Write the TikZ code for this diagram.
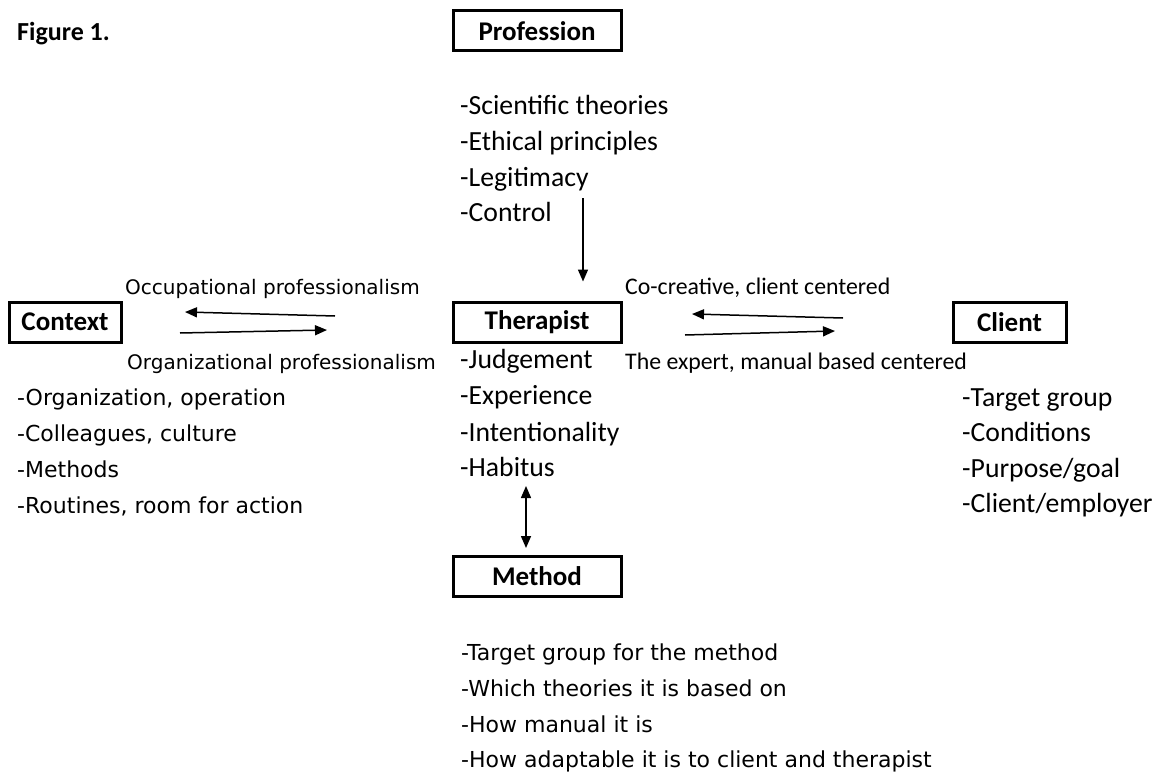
\documentclass[tikz,border=0pt]{standalone}
\usepackage{fontspec}
\setmainfont{Carlito}
\newfontfamily\vfont{DejaVu Sans}
\usetikzlibrary{arrows.meta,calc}
\begin{document}
\begin{tikzpicture}[x=1pt,y=-1pt,
  boxnode/.style={draw,line width=3pt,inner sep=0pt,minimum height=40pt,
    font=\fontsize{27}{32}\selectfont\bfseries},
  citem/.style={anchor=base west,inner sep=0pt,font=\fontsize{27.7}{34}\selectfont},
  vitem/.style={anchor=base west,inner sep=0pt,font=\vfont\fontsize{22}{28}\selectfont},
  vlab/.style={anchor=base west,inner sep=0pt,font=\vfont\fontsize{20}{24}\selectfont},
  clab/.style={anchor=base west,inner sep=0pt,font=\fontsize{23.8}{28}\selectfont},
  arr/.style={line width=1.5pt,-{Triangle[length=12pt,width=10pt]}},
  darr/.style={line width=1.5pt,{Triangle[length=12pt,width=10pt]}-{Triangle[length=12pt,width=10pt]}}]
\useasboundingbox (0,0) rectangle (1159,773);

\node[anchor=base west,inner sep=0pt,font=\fontsize{26}{30}\selectfont\bfseries] (fig) at (17,41) {Figure 1.};

% boxes
\node[boxnode,minimum width=168pt] (prof) at (537,31) {Profession};
\node[boxnode,minimum width=168pt] (ther) at (537,322) {Therapist};
\node[boxnode,minimum width=168pt] (meth) at (537,576.5) {Method};
\node[boxnode,minimum width=112pt] (ctx) at (65,322) {Context};
\node[boxnode,minimum width=113pt] (cli) at (1009.5,322) {Client};

% profession list
\node[citem] (p1) at (460,115) {-Scientific theories};
\node[citem] (p2) at (460,150.5) {-Ethical principles};
\node[citem] (p3) at (460,186) {-Legitimacy};
\node[citem] (p4) at (460,221.5) {-Control};

% therapist list
\node[citem] (t1) at (460,368) {-Judgement};
\node[citem] (t2) at (460,404.5) {-Experience};
\node[citem] (t3) at (460,441) {-Intentionality};
\node[citem] (t4) at (460,476.5) {-Habitus};

% client list
\node[citem] (c1) at (962,406) {-Target group};
\node[citem] (c2) at (962,441.5) {-Conditions};
\node[citem] (c3) at (962,477) {-Purpose/goal};
\node[citem] (c4) at (962,512) {-Client/employer};

% context list
\node[vitem] (x1) at (17,405) {-Organization, operation};
\node[vitem] (x2) at (17,441) {-Colleagues, culture};
\node[vitem] (x3) at (17,477) {-Methods};
\node[vitem] (x4) at (17,513) {-Routines, room for action};

% method list
\node[vitem] (m1) at (461,660) {-Target group for the method};
\node[vitem] (m2) at (461,696) {-Which theories it is based on};
\node[vitem] (m3) at (461,732) {-How manual it is};
\node[vitem] (m4) at (461,767) {-How adaptable it is to client and therapist};

% connector labels
\node[vlab] (occ) at (125,294) {Occupational professionalism};
\node[vlab] (org) at (127,369) {Organizational professionalism};
\node[clab] (cocr) at (625,294) {Co-creative, client centered};
\node[clab] (expt) at (625,369) {The expert, manual based centered};

% connector end points
\coordinate (pa) at (583,198);
\coordinate (l1s) at (335,316);
\coordinate (l1e) at (185,312);
\coordinate (l2s) at (180,333);
\coordinate (l2e) at (327,330);
\coordinate (r1s) at (843,318);
\coordinate (r1e) at (692,314);
\coordinate (r2s) at (685,335);
\coordinate (r2e) at (835,331);
\coordinate (ha) at (526,486);

% connectors
\draw[arr,shorten >=19pt] (pa) -- (pa |- ther.north);
\draw[arr] (l1s) -- (l1e);
\draw[arr] (l2s) -- (l2e);
\draw[arr] (r1s) -- (r1e);
\draw[arr] (r2s) -- (r2e);
\draw[darr,shorten >=7pt] (ha) -- (ha |- meth.north);
\end{tikzpicture}
\end{document}
